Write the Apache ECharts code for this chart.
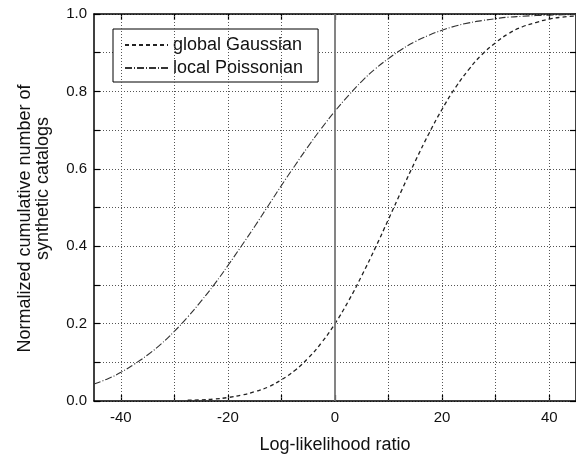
<!DOCTYPE html>
<html>
<head>
<meta charset="utf-8">
<script src="https://cdn.jsdelivr.net/npm/echarts@6/dist/echarts.min.js"></script>
<style>
  html, body { margin: 0; padding: 0; background: #fff; }
  #chart { width: 576px; height: 459px; }
</style>
</head>
<body>
<div id="chart"></div>
<script>
// x positions shared by both curves
const xValues = [
  -45, -42.5, -40, -37.5, -35, -32.5, -30, -27.5, -25, -22.5, -20, -17.5, -15, -12.5,
  -10, -7.5, -5, -2.5, 0, 2.5, 5, 7.5, 10, 12.5, 15, 17.5, 20, 22.5, 25, 27.5,
  30, 32.5, 35, 37.5, 40, 42.5, 45
]

// global Gaussian starts at x = -27.5
const gaussStart = 7
const gaussValues = [
  0.002, 0.003, 0.005, 0.009, 0.015, 0.024, 0.036, 0.055, 0.079, 0.111,
  0.151, 0.200, 0.258, 0.324, 0.395, 0.470, 0.546, 0.620, 0.690, 0.754,
  0.810, 0.857, 0.896, 0.926, 0.950, 0.967, 0.978, 0.987, 0.992, 0.995
]

const poissonValues = [
  0.044, 0.057, 0.074, 0.095, 0.119, 0.147, 0.180, 0.217, 0.258, 0.302,
  0.350, 0.400, 0.451, 0.504, 0.557, 0.608, 0.658, 0.705, 0.749, 0.789,
  0.826, 0.858, 0.885, 0.909, 0.929, 0.945, 0.958, 0.969, 0.977, 0.983,
  0.988, 0.992, 0.994, 0.996, 0.997, 0.998, 0.999
]

const seriesNames = ['global Gaussian', 'local Poissonian']
const xLabelValues = [-40, -20, 0, 20, 40]
const xTickValues = [-40, -30, -20, -10, 0, 10, 20, 30, 40]
const xGridValues = [-40, -30, -20, -10, 10, 20, 30, 40]

const font = 'Liberation Sans, Arial, sans-serif'
const gridLine = { color: '#555', width: 1, type: [1, 2] }
const tickStyle = { color: '#000', width: 1.2 }

const gaussData = gaussValues.map((y, i) => [xValues[gaussStart + i], y])
const poissonData = poissonValues.map((y, i) => [xValues[i], y])

const chart = echarts.init(document.getElementById('chart'))

const option = {
  backgroundColor: '#fff',
  animation: false,
  grid: { left: 94, right: -1, top: 14, bottom: 56 },
  legend: {
    data: seriesNames,
    orient: 'vertical',
    left: 113,
    top: 29,
    padding: [7, 15, 5, 11],
    itemWidth: 43,
    itemHeight: 14,
    itemGap: 5,
    borderColor: '#000',
    borderWidth: 1,
    backgroundColor: '#fff',
    itemStyle: { opacity: 0 },
    textStyle: { fontFamily: font, fontSize: 18, color: '#111' }
  },
  xAxis: [
    {
      type: 'value',
      min: -45,
      max: 45,
      name: 'Log-likelihood ratio',
      nameLocation: 'middle',
      nameGap: 35,
      nameTextStyle: { fontFamily: font, fontSize: 18, color: '#111' },
      axisLine: { onZero: false, lineStyle: { color: '#000', width: 1.5 } },
      axisTick: { inside: true, length: 6, customValues: xTickValues, lineStyle: tickStyle },
      axisLabel: { customValues: xLabelValues, margin: 9, fontFamily: font, fontSize: 15, color: '#111' },
      splitLine: { show: false }
    },
    {
      type: 'value',
      position: 'top',
      min: -45,
      max: 45,
      axisLine: { onZero: false, lineStyle: { color: '#000', width: 1.5 } },
      axisTick: { inside: true, length: 6, customValues: xTickValues, lineStyle: tickStyle },
      axisLabel: { show: false },
      splitLine: { show: false }
    }
  ],
  yAxis: [
    {
      type: 'value',
      min: 0,
      max: 1,
      interval: 0.1,
      name: '{a|Normalized cumulative number of}\n{b|synthetic catalogs}',
      nameLocation: 'middle',
      nameGap: 42,
      nameTextStyle: {
        fontFamily: font,
        fontSize: 18,
        color: '#111',
        rich: {
          a: { fontFamily: font, fontSize: 18, color: '#111', padding: [0, 22, 0, 0] },
          b: { fontFamily: font, fontSize: 18, color: '#111', padding: [0, 0, 0, 38] }
        }
      },
      axisLine: { show: true, onZero: false, lineStyle: { color: '#000', width: 1.5 } },
      axisTick: { show: true, inside: true, length: 6, lineStyle: tickStyle },
      axisLabel: {
        margin: 7,
        fontFamily: font,
        fontSize: 15,
        color: '#111',
        formatter: (v) => (Math.round(v * 10) % 2 === 0 ? v.toFixed(1) : '')
      },
      splitLine: { show: true, lineStyle: gridLine }
    },
    {
      type: 'value',
      position: 'right',
      min: 0,
      max: 1,
      interval: 0.1,
      axisLine: { show: true, onZero: false, lineStyle: { color: '#000', width: 1.5 } },
      axisTick: { show: true, inside: true, length: 6, lineStyle: tickStyle },
      axisLabel: { show: false },
      splitLine: { show: false }
    }
  ],
  series: [
    {
      name: seriesNames[0],
      type: 'line',
      data: gaussData,
      smooth: true,
      symbol: 'none',
      lineStyle: { color: '#222', width: 1.3, type: [4, 3] },
      itemStyle: { color: '#222' },
      z: 3,
      markLine: {
        silent: true,
        symbol: 'none',
        label: { show: false },
        animation: false,
        data: [
          ...xGridValues.map((v) => ({ xAxis: v, lineStyle: gridLine })),
          { xAxis: 0, lineStyle: { color: '#777', width: 1.8, type: 'solid' } }
        ]
      }
    },
    {
      name: seriesNames[1],
      type: 'line',
      data: poissonData,
      smooth: true,
      symbol: 'none',
      lineStyle: { color: '#333', width: 1.1, type: [7, 2, 1, 2] },
      itemStyle: { color: '#333' },
      z: 3
    }
  ]
}

chart.setOption(option)
</script>
</body>
</html>
